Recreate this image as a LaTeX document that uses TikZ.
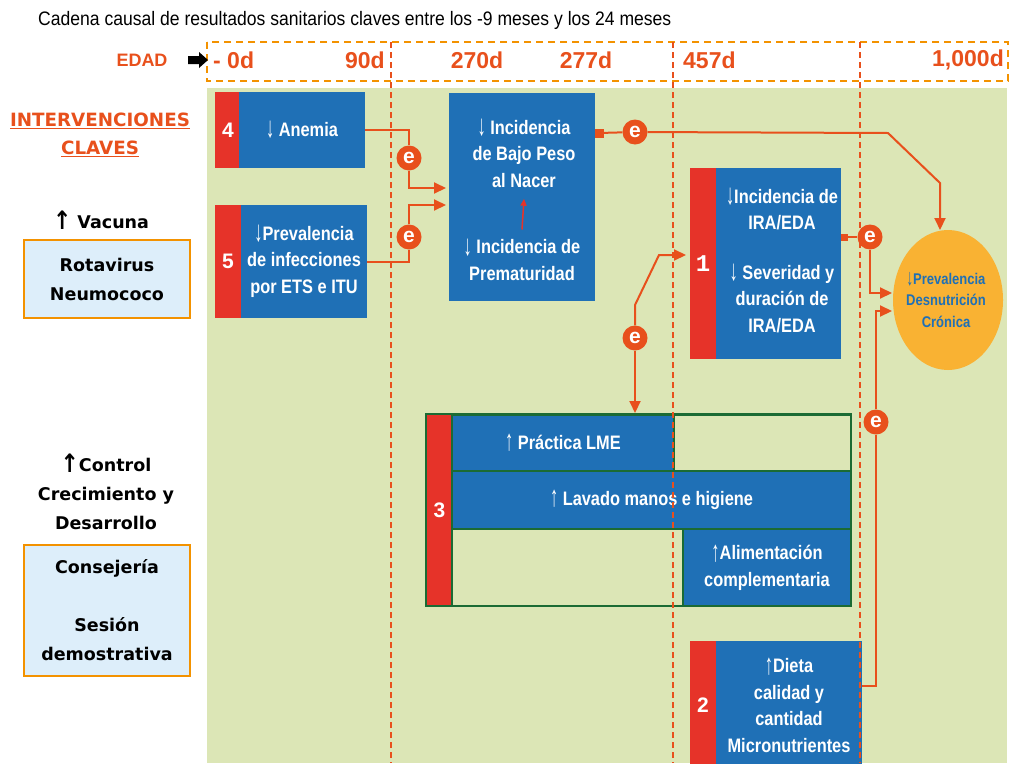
\documentclass[tikz,border=0pt]{standalone}
\usepackage{fontspec}
\setmainfont{Liberation Sans}
\newfontfamily\condf[FakeStretch=0.84]{Liberation Sans}
\newfontfamily\titlef[FakeStretch=0.9]{Liberation Sans}
\newfontfamily\monof{Liberation Mono}
\newfontfamily\leftf{DejaVu Sans}
\usetikzlibrary{arrows.meta,shapes.geometric}
\newcommand{\mydn}{\raisebox{-1.5pt}{\scalebox{1}[1.5]{↓}}}
\newcommand{\myup}{\raisebox{-1.5pt}{\scalebox{1}[1.5]{↑}}}
\newcommand{\myupL}{\raisebox{-1pt}{\scalebox{1.25}[1.45]{↑}}}
\definecolor{cbg}{RGB}{220,230,182}
\definecolor{cblue}{RGB}{31,112,182}
\definecolor{cred}{RGB}{230,51,41}
\definecolor{corange}{RGB}{232,80,28}
\definecolor{cdash}{RGB}{243,146,0}
\definecolor{cell}{RGB}{249,178,51}
\definecolor{cgreen}{RGB}{27,107,52}
\definecolor{clight}{RGB}{221,238,250}
\begin{document}
\begin{tikzpicture}[x=1pt,y=-1pt,
  conn/.style={draw=corange, line width=2pt},
  arr/.style={conn, -{Triangle[length=12pt,width=11pt]}},
  ecirc/.style={circle, fill=corange, text=white, inner sep=0pt, minimum size=25pt, font=\bfseries\fontsize{21}{21}\selectfont},
  bluebox/.style={fill=cblue, text=white, inner sep=0pt, align=center, font=\condf\bfseries\fontsize{19.5}{26.5}\selectfont},
  stripe/.style={fill=cred, text=white, inner sep=0pt, font=\bfseries\fontsize{21}{21}\selectfont},
  lbox/.style={fill=clight, draw=cdash, line width=1.8pt, inner sep=0pt, align=center, font=\leftf\bfseries\fontsize{17.5}{29}\selectfont},
  ltext/.style={align=center, font=\leftf\bfseries\fontsize{17.5}{29}\selectfont, inner sep=0pt},
  daylbl/.style={text=corange, font=\bfseries\fontsize{23}{23}\selectfont, inner sep=0pt},
  vdash/.style={draw=corange, line width=1.6pt, dash pattern=on 6pt off 4pt},
  gcell/.style={draw=cgreen, line width=1.8pt, inner sep=0pt, align=center},
  sq/.style={fill=corange, inner sep=0pt, minimum size=#1},
]
\useasboundingbox (0,0) rectangle (1011,763);
% background
\fill[cbg] (207,88) rectangle (1007,763);
\draw[draw=cdash, line width=2.5pt, dash pattern=on 7pt off 5pt] (207,42) rectangle (1008,81);

% title and timeline
\node[anchor=west, inner sep=0pt, font=\titlef\fontsize{19.5}{19.5}\selectfont] (title) at (38,20) {Cadena causal de resultados sanitarios claves entre los -9 meses y los 24 meses};
\node[text=corange, font=\bfseries\fontsize{18}{18}\selectfont, inner sep=0pt] (edad) at (142,60) {EDAD};
\fill (188,56) -- (199,56) -- (199,52) -- (208,60) -- (199,68) -- (199,64) -- (188,64) -- cycle;
\node[daylbl, anchor=west] (d0) at (213,60) {- 0d};
\node[daylbl, anchor=east] (d90) at (385,60) {90d};
\node[daylbl] (d270) at (477,60) {270d};
\node[daylbl] (d277) at (586,60) {277d};
\node[daylbl, anchor=west] (d457) at (683,60) {457d};
\node[daylbl, anchor=east] (d1000) at (1004,60) {1,000d};

% left panel
\node[ltext, text=corange, font=\leftf\bfseries\fontsize{18.3}{28}\selectfont] (ic) at (100,135) {\underline{INTERVENCIONES}\\\underline{CLAVES}};
\node[ltext] (vac) at (101,220) {\myupL\ Vacuna};
\node[lbox, minimum width=166pt, minimum height=78pt] (rota) at (107,279) {Rotavirus\\Neumococo};
\node[ltext] (ccd) at (106,492) {\myupL Control\\Crecimiento y\\Desarrollo};
\node[lbox, minimum width=166pt, minimum height=131pt] (cons) at (107,610.5) {Consejería\\[29pt]Sesión\\demostrativa};

% box 4
\node[stripe, minimum width=26pt, minimum height=76pt] (s4) at (228,130) {4};
\node[bluebox, minimum width=126pt, minimum height=76pt] (b4) at (302,130) {\mydn\ Anemia};
% box 5
\node[stripe, minimum width=26pt, minimum height=113pt] (s5) at (228,261.5) {5};
\node[bluebox, minimum width=126pt, minimum height=113pt] (b5) at (304,261.5) {\mydn Prevalencia\\de infecciones\\por ETS e ITU};
% BPN box
\node[bluebox, minimum width=146pt, minimum height=208pt] (bpn) at (522,197) {};
\node[bluebox, fill=none] (bpnA) at (524,153.5) {\mydn\ Incidencia\\de Bajo Peso\\al Nacer};
\node[bluebox, fill=none] (bpnB) at (522,259.5) {\mydn\ Incidencia de\\Prematuridad};
\draw[draw=cred, line width=1.5pt, -{Triangle[length=7pt,width=6pt]}] ([yshift=9pt]bpnB.north) -- ([yshift=-11pt]bpnA.south);
% box 1
\node[stripe, minimum width=26pt, minimum height=191pt, font=\monof\bfseries\fontsize{24}{24}\selectfont] (s1) at (703,263.5) {1};
\node[bluebox, minimum width=125pt, minimum height=191pt] (b1) at (778.5,263.5) {};
\node[bluebox, fill=none] (b1t) at (782,260.5) {\mydn Incidencia de\\IRA/EDA\\[23pt]\mydn\ Severidad y\\duración de\\IRA/EDA};
% ellipse
\node[ellipse, fill=cell, minimum width=110pt, minimum height=140pt, inner sep=0pt] (ell) at (948,300) {};
\node[align=center, text=cblue, inner sep=0pt, font=\condf\bfseries\fontsize{15.5}{21.5}\selectfont] (ellt) at (946,300) {\mydn Prevalencia\\Desnutrición\\Crónica};

% box 3
\node[stripe, minimum width=25pt, minimum height=192pt] (s3) at (439.5,510) {3};
\node[bluebox, gcell, minimum width=222pt, minimum height=56pt] (c11) at (563,443) {\myup\ Práctica LME};
\node[gcell, minimum width=177pt, minimum height=56pt] (c12) at (762.5,443) {};
\node[bluebox, gcell, minimum width=399pt, minimum height=58pt] (c2) at (651.5,500) {\myup\ Lavado manos e higiene};
\node[gcell, minimum width=231pt, minimum height=77pt] (c31) at (567.5,567.5) {};
\node[bluebox, gcell, minimum width=168pt, minimum height=77pt] (c32) at (767,567.5) {\myup Alimentación\\complementaria};
\node[draw=cgreen, line width=2pt, minimum width=425pt, minimum height=192pt, inner sep=0pt] (b3) at (638.5,510) {};

% box 2
\node[stripe, minimum width=26pt, minimum height=128pt] (s2) at (703,705) {2};
\node[bluebox, minimum width=146pt, minimum height=128pt] (b2) at (789,705) {\myup Dieta\\calidad y\\cantidad\\Micronutrientes};

% dashed vertical lines
\draw[vdash] (391,42) -- (391,763);
\draw[vdash] (673,42) -- (673,763);
\draw[vdash] (860,42) -- (860,763);

% e circles and squares
\node[ecirc] (e1) at (409,158) {e};
\node[ecirc] (e2) at (409,237) {e};
\node[ecirc] (e3) at (635,132) {e};
\node[ecirc] (e4) at (870,237) {e};
\node[ecirc] (e5) at (876,422) {e};
\node[ecirc] (e6) at (635,338) {e};
\node[sq=9pt] (sq1) at (599,133) {};
\node[sq=7pt] (sq2) at (844,237) {};

% helper coordinates
\coordinate (in1) at (446,188);
\coordinate (in2) at (446,205);
\coordinate (k1) at (888,133);
\coordinate (k2) at (940,183);
\coordinate (in3) at (940,230);
\coordinate (in4) at (892,293);
\coordinate (in5) at (892,311);
\coordinate (y686) at (0,686);
\coordinate (k3) at (635,305);
\coordinate (k4) at (659,255);
\coordinate (in6) at (686,255);

% connectors
\draw[arr] (b4.east) -| (e1) |- (in1);
\draw[arr] (b5.east) -| (e2) |- (in2);
\draw[arr] (sq1) -- (e3) -- (k1) -- (k2) -- (in3);
\draw[conn] (sq2) -- (e4);
\draw[arr] (e4) |- (in4);
\draw[arr] (e5) |- (in5);
\draw[conn] (e5) |- (b2.east |- y686);
\draw[arr] (e6) -- (k3) -- (k4) -- (in6);
\draw[arr] (e6) -- (e6 |- b3.north);
\end{tikzpicture}
\end{document}
